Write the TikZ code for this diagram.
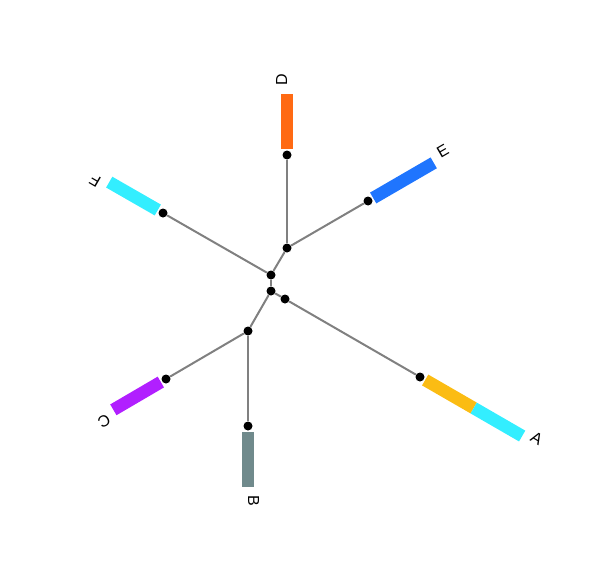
\documentclass[tikz,border=0pt]{standalone}
\usepackage{fontspec}
\setmainfont{Liberation Sans}
\usetikzlibrary{calc}
\definecolor{cD}{HTML}{FF6A13}
\definecolor{cE}{HTML}{1F75FE}
\definecolor{cCyan}{HTML}{33EEFF}
\definecolor{cA}{HTML}{FBBC13}
\definecolor{cC}{HTML}{B11FFF}
\definecolor{cB}{HTML}{708A8C}
\definecolor{edgegray}{HTML}{808080}
\begin{document}
\begin{tikzpicture}[x=1pt,y=-1pt,
  dot/.style={circle,fill=black,inner sep=0pt,minimum size=9pt},
  edge/.style={draw=edgegray,line width=2pt},
  bar/.style={line width=12.5pt,line cap=butt},
  lbl/.style={anchor=base west,inner sep=0pt,font=\fontsize{16}{17}\selectfont}]
\useasboundingbox (0,0) rectangle (602,578);
% internal nodes
\node[dot] (n1) at (287,248) {};
\node[dot] (n2) at (271,275) {};
\node[dot] (n3) at (271,291) {};
\node[dot] (n4) at (285,299) {};
\node[dot] (n5) at (248,331) {};
% leaves
\node[dot] (lD) at (287,155) {};
\node[dot] (lE) at (368,201) {};
\node[dot] (lF) at (163,213) {};
\node[dot] (lA) at (420,377) {};
\node[dot] (lC) at (166,379) {};
\node[dot] (lB) at (248,426) {};
% edges
\draw[edge] (n1) -- (lD);
\draw[edge] (n1) -- (lE);
\draw[edge] (n2) -- (n1);
\draw[edge] (n2) -- (lF);
\draw[edge] (n2) -- (n3);
\draw[edge] (n3) -- (n4);
\draw[edge] (n4) -- (lA);
\draw[edge] (n3) -- (n5);
\draw[edge] (n5) -- (lC);
\draw[edge] (n5) -- (lB);
% bars
\draw[bar,cD] ($(lD.center)!-6pt!(n1.center)$) -- ($(lD.center)!-61pt!(n1.center)$);
\draw[bar,cE] ($(lE.center)!-6pt!(n1.center)$) -- ($(lE.center)!-76pt!(n1.center)$);
\draw[bar,cCyan] ($(lF.center)!-6pt!(n2.center)$) -- ($(lF.center)!-62pt!(n2.center)$);
\draw[bar,cA] ($(lA.center)!-6pt!(n4.center)$) -- ($(lA.center)!-62pt!(n4.center)$);
\draw[bar,cCyan] ($(lA.center)!-62pt!(n4.center)$) -- ($(lA.center)!-118pt!(n4.center)$);
\draw[bar,cC] ($(lC.center)!-6pt!(n5.center)$) -- ($(lC.center)!-61pt!(n5.center)$);
\draw[bar,cB] ($(lB.center)!-6pt!(n5.center)$) -- ($(lB.center)!-61pt!(n5.center)$);
% labels
\node[lbl,rotate=90] (tD) at ($(lD.center)!-69pt!(n1.center)$) {D};
\node[lbl,rotate=30] (tE) at ($(lE.center)!-84pt!(n1.center)$) {E};
\node[lbl,rotate=150] (tF) at ($(lF.center)!-70pt!(n2.center)$) {F};
\node[lbl,rotate=-30] (tA) at ($(lA.center)!-126pt!(n4.center)$) {A};
\node[lbl,rotate=210] (tC) at ($(lC.center)!-69pt!(n5.center)$) {C};
\node[lbl,rotate=-90] (tB) at ($(lB.center)!-69pt!(n5.center)$) {B};
\end{tikzpicture}
\end{document}
